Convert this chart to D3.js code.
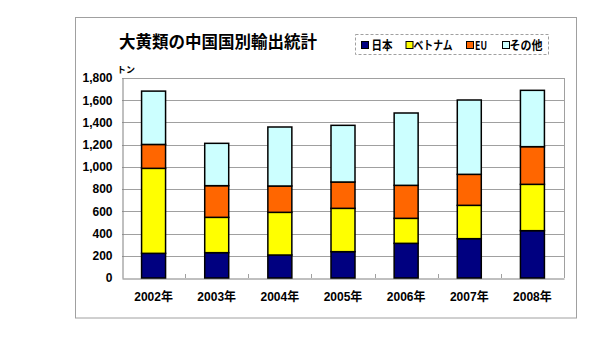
<!DOCTYPE html>
<html>
<head>
<meta charset="utf-8">
<script src="https://cdn.jsdelivr.net/npm/d3@7"></script>
<style>
  html, body { margin: 0; padding: 0; background: #fff; }
  svg { display: block; }
  text { font-family: "Liberation Sans", Arial, "Noto Sans CJK JP", sans-serif; }
  .jp { font-family: "Noto Sans CJK JP", "Liberation Sans", sans-serif; }
</style>
</head>
<body>
<svg id="chart" width="600" height="339"></svg>
<script>
// Export volumes of rhubarb from China by destination (tonnes)
const years = ["2002年", "2003年", "2004年", "2005年", "2006年", "2007年", "2008年"];
const seriesNames = ["日本", "ベトナム", "EU", "その他"];
const japan   = [222, 228, 207, 237, 312, 354, 426];
const vietnam = [765, 318, 384, 390, 225, 300, 417];
const eu      = [215, 285, 237, 237, 297, 279, 339];
const others  = [480, 381, 531, 510, 651, 669, 507];
const yTicks  = [0, 200, 400, 600, 800, 1000, 1200, 1400, 1600, 1800];
const seriesColors = ["#000080", "#FFFF00", "#FF6600", "#CCFFFF"];

const rows = years.map((y, i) => ({
  year: y,
  "日本": japan[i], "ベトナム": vietnam[i], "EU": eu[i], "その他": others[i]
}));

const svg = d3.select("#chart");

// outer chart frame
svg.append("rect")
  .attr("x", 75.5).attr("y", 17.5).attr("width", 501).attr("height", 300.5)
  .attr("fill", "#fff").attr("stroke", "#a0a0a0").attr("stroke-width", 1);

const plot = { left: 122, right: 564, top: 78, bottom: 278 };

const x = d3.scaleBand().domain(years).range([plot.left, plot.right]).paddingInner(0.62).paddingOuter(0.31);
const y = d3.scaleLinear().domain([0, 1800]).range([plot.bottom, plot.top]);

// horizontal gridlines
svg.append("g")
  .selectAll("line").data(yTicks.filter(t => t > 0)).join("line")
  .attr("x1", plot.left).attr("x2", plot.right)
  .attr("y1", d => Math.round(y(d)) + 0.5).attr("y2", d => Math.round(y(d)) + 0.5)
  .attr("stroke", "#a0a0a0").attr("stroke-width", 1);

// plot-area border (right side)
svg.append("line")
  .attr("x1", plot.right + 0.5).attr("x2", plot.right + 0.5)
  .attr("y1", plot.top).attr("y2", plot.bottom)
  .attr("stroke", "#a0a0a0");

// y axis
const yAxis = d3.axisLeft(y).tickValues(yTicks).tickSize(0).tickPadding(10)
  .tickFormat(d3.format(","));
const gy = svg.append("g").attr("transform", `translate(${plot.left + 0.5},0)`).call(yAxis);
gy.select(".domain").attr("stroke", "#808080");
gy.selectAll("text").attr("font-size", 12).attr("font-weight", "bold").attr("fill", "#000");

// x axis with small inner ticks between categories
const step = x.step();
const xAxis = d3.axisBottom(x).tickSize(0).tickPadding(14);
const gx = svg.append("g").attr("transform", `translate(0,${plot.bottom + 0.5})`).call(xAxis);
gx.select(".domain").attr("stroke", "#808080");
gx.selectAll("text").attr("font-size", 12).attr("font-weight", "bold").attr("fill", "#000");
svg.append("g").selectAll("line").data(years.slice(1)).join("line")
  .attr("x1", d => Math.round(x(d) - step * x.paddingInner() / 2) + 0.5)
  .attr("x2", d => Math.round(x(d) - step * x.paddingInner() / 2) + 0.5)
  .attr("y1", plot.bottom - 4).attr("y2", plot.bottom)
  .attr("stroke", "#a0a0a0");

// stacked bars
const stack = d3.stack().keys(seriesNames)(rows);
svg.append("g").selectAll("g").data(stack).join("g")
  .attr("fill", (d, i) => seriesColors[i])
  .selectAll("rect").data(d => d).join("rect")
  .attr("x", d => x(d.data.year))
  .attr("y", d => y(d[1]))
  .attr("width", x.bandwidth())
  .attr("height", d => y(d[0]) - y(d[1]))
  .attr("stroke", "#000").attr("stroke-width", 1.5);

// unit label
svg.append("text").attr("class", "jp")
  .attr("x", 117).attr("y", 73)
  .attr("font-size", 9).attr("font-weight", "bold").text("トン");

// title
svg.append("text").attr("class", "jp")
  .attr("x", 119).attr("y", 48)
  .attr("font-size", 16.5).attr("font-weight", "bold").text("大黄類の中国国別輸出統計");

// legend
const lg = svg.append("g");
lg.append("rect")
  .attr("x", 355.5).attr("y", 34.5).attr("width", 193).attr("height", 20)
  .attr("fill", "#fff").attr("stroke", "#a0a0a0").attr("stroke-dasharray", "3,2");
const legendSwatchX = [361, 405.5, 466, 502];
const legendTextX = [371.5, 413.5, 475, 509.5];
const legendTextW = [21, 39, 12, 33];
const items = lg.selectAll("g").data(seriesNames).join("g");
items.append("rect")
  .attr("x", (d, i) => legendSwatchX[i] + 0.5).attr("y", 41.5).attr("width", 7).attr("height", 7)
  .attr("fill", (d, i) => seriesColors[i]).attr("stroke", "#000").attr("stroke-width", 1);
items.append("text").attr("class", "jp")
  .attr("x", (d, i) => legendTextX[i]).attr("y", 49.5)
  .attr("textLength", (d, i) => legendTextW[i]).attr("lengthAdjust", "spacingAndGlyphs")
  .attr("font-size", 12).attr("font-weight", "bold").text(d => d);
</script>
</body>
</html>
